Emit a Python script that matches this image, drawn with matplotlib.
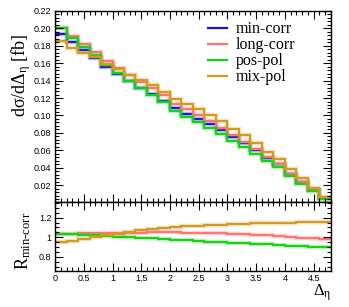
import numpy as np
import matplotlib
matplotlib.use("Agg")
import matplotlib.pyplot as plt
from matplotlib.ticker import MultipleLocator, FixedLocator

# bin edges of the Delta_eta histogram (0.2 wide, 0 .. 4.8)
bin_lo = 0.0
bin_hi = 4.8
n_bins = 24

min_corr = [0.194, 0.184, 0.175, 0.166, 0.156, 0.148, 0.140, 0.132, 0.125, 0.117, 0.108, 0.102,
            0.096, 0.090, 0.083, 0.075, 0.068, 0.060, 0.051, 0.044, 0.033, 0.024, 0.014, 0.005]
long_corr = [0.200, 0.191, 0.182, 0.173, 0.163, 0.155, 0.147, 0.138, 0.131, 0.123, 0.113, 0.107,
             0.100, 0.094, 0.086, 0.078, 0.070, 0.0615, 0.052, 0.0446, 0.0332, 0.0239, 0.0138, 0.0049]
pos_pol = [0.200, 0.189, 0.179, 0.169, 0.158, 0.149, 0.140, 0.131, 0.1235, 0.115, 0.105, 0.0987,
           0.0924, 0.086, 0.079, 0.0708, 0.0638, 0.0559, 0.0472, 0.0405, 0.0302, 0.0218, 0.0127, 0.0045]
mix_pol = [0.185, 0.178, 0.172, 0.167, 0.159, 0.153, 0.147, 0.141, 0.135, 0.1275, 0.119, 0.113,
           0.107, 0.101, 0.094, 0.085, 0.0775, 0.0686, 0.0584, 0.0505, 0.038, 0.0276, 0.0161, 0.0058]

# ratios to min-corr (lower panel)
r_long_corr = [1.035, 1.037, 1.039, 1.041, 1.043, 1.045, 1.047, 1.048, 1.049, 1.049, 1.049, 1.048,
               1.046, 1.043, 1.039, 1.035, 1.030, 1.025, 1.020, 1.013, 1.005, 0.997, 0.988, 0.978]
r_pos_pol = [1.032, 1.028, 1.023, 1.018, 1.012, 1.006, 1.000, 0.994, 0.988, 0.981, 0.975, 0.968,
             0.962, 0.956, 0.950, 0.944, 0.938, 0.932, 0.926, 0.920, 0.915, 0.910, 0.905, 0.900]
r_mix_pol = [0.947, 0.965, 0.985, 1.005, 1.020, 1.035, 1.050, 1.070, 1.080, 1.090, 1.100, 1.110,
             1.118, 1.125, 1.130, 1.135, 1.140, 1.143, 1.146, 1.148, 1.150, 1.152, 1.153, 1.155]

labels = ["min-corr", "long-corr", "pos-pol", "mix-pol"]
colors = ["#1414e6", "#ff7373", "#14d214", "#d49a1e"]

edges = np.linspace(bin_lo, bin_hi, n_bins + 1)

SERIF = "Liberation Serif"
SANS = "Liberation Sans"
plt.rcParams["mathtext.fontset"] = "custom"
plt.rcParams["mathtext.rm"] = SERIF
plt.rcParams["mathtext.it"] = SERIF + ":italic"

fig = plt.figure(figsize=(3.49, 3.07), dpi=100)
ax = fig.add_axes([0.1576, 0.3404, 0.7908, 0.6238])
axr = fig.add_axes([0.1576, 0.1173, 0.7908, 0.2231])


def draw(a, vals, c, label=None):
    a.stairs(vals, edges, color=c, lw=3.2, alpha=0.3, baseline=None)
    a.stairs(vals, edges, color=c, lw=1.4, baseline=None, label=label)


for vals, c, lab in zip([min_corr, long_corr, pos_pol, mix_pol], colors, labels):
    draw(ax, vals, c, lab)

for vals, c in zip([r_long_corr, r_pos_pol, r_mix_pol], colors[1:]):
    draw(axr, vals, c)

ax.set_xlim(bin_lo, bin_hi)
ax.set_ylim(0, 0.22)
axr.set_xlim(bin_lo, bin_hi)
axr.set_ylim(0.655, 1.355)

for a in (ax, axr):
    a.xaxis.set_major_locator(MultipleLocator(0.5))
    a.xaxis.set_minor_locator(MultipleLocator(0.1))
    a.tick_params(which="both", direction="in", top=True, right=True, width=0.8)
    a.tick_params(which="major", length=6)
    a.tick_params(which="minor", length=3)
    a.tick_params(labelsize=6.5, pad=2.5)
    for s in a.spines.values():
        s.set_linewidth(1.0)

yt = np.arange(0.02, 0.2201, 0.02)
ax.yaxis.set_major_locator(FixedLocator(yt))
ax.yaxis.set_minor_locator(MultipleLocator(0.004))
ax.set_yticklabels(["%.2f" % v for v in yt], family=SANS, fontsize=6.5)
ax.tick_params(labelbottom=False)

axr.yaxis.set_major_locator(FixedLocator([0.8, 1.0, 1.2]))
axr.yaxis.set_minor_locator(MultipleLocator(0.05))
axr.set_yticklabels(["0.8", "1", "1.2"], family=SANS, fontsize=6.5)
axr.set_xticks(np.arange(0, 4.51, 0.5))
axr.set_xticklabels(["0", "0.5", "1", "1.5", "2", "2.5", "3", "3.5", "4", "4.5"], family=SANS, fontsize=6.5)

ax.set_ylabel(r"$\mathrm{d\sigma/d\Delta_{\eta}\ [fb]}$", fontsize=13)
ax.yaxis.set_label_coords(-0.08, 0.665)
axr.set_ylabel(r"$\mathrm{R_{min\text{-}corr}}$", fontsize=13)
axr.yaxis.set_label_coords(-0.08, 0.44)
fig.text(0.948, 0.012, r"$\mathrm{\Delta_{\eta}}$", fontsize=12, ha="right", va="bottom")

leg = ax.legend(loc="upper right", bbox_to_anchor=(0.91, 1.005), frameon=False,
                prop={"family": SERIF, "size": 11.5}, handlelength=1.2, handletextpad=0.5,
                labelspacing=0.0, borderpad=0.2)
for h in leg.get_lines():
    h.set_linewidth(1.6)
    h.set_alpha(1.0)

fig.savefig("out.png", dpi=100)
